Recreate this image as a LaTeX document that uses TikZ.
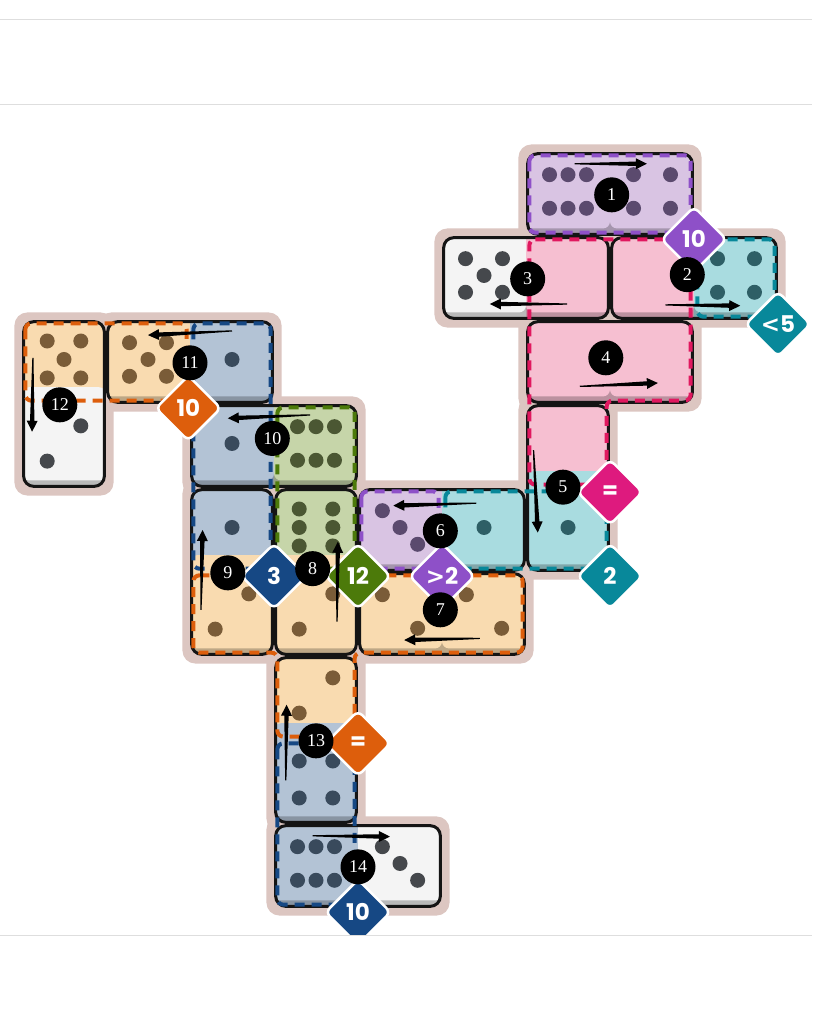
\documentclass[tikz,border=0pt]{standalone}
\usepackage{fontspec}
\setmainfont{Liberation Serif}
\newfontfamily\badgefont{Poppins}
\newfontfamily\signfont{DejaVu Sans}
\usetikzlibrary{shapes.geometric,arrows.meta,calc}

\definecolor{halo}{HTML}{DCC6C1}
\definecolor{pu}{HTML}{D9C4E3}\definecolor{puD}{HTML}{5B4A6E}\definecolor{puR}{HTML}{8E50C8}
\definecolor{pk}{HTML}{F6BFD1}\definecolor{pkD}{HTML}{7A3048}\definecolor{pkR}{HTML}{E0185F}\definecolor{pkB}{HTML}{DE1A7E}
\definecolor{cy}{HTML}{A9DCE0}\definecolor{cyD}{HTML}{2E5F66}\definecolor{cyR}{HTML}{08889A}
\definecolor{wh}{HTML}{F4F4F4}\definecolor{whD}{HTML}{45484C}
\definecolor{or}{HTML}{F9DBB0}\definecolor{orD}{HTML}{7A5C38}\definecolor{orR}{HTML}{DD5E0C}
\definecolor{bl}{HTML}{B3C3D5}\definecolor{blD}{HTML}{394A5C}\definecolor{blR}{HTML}{164884}
\definecolor{gr}{HTML}{C6D5A9}\definecolor{grD}{HTML}{4B5733}\definecolor{grR}{HTML}{4C7A0A}

\tikzset{
    halo box/.style={fill=halo,rounded corners=13pt},
    domino edge/.style={draw=black!92,line width=3pt,rounded corners=10pt},
    region/.style={draw=#1,line width=4pt,dash pattern=on 10pt off 7pt,rounded corners=6pt},
    badge/.style={diamond,fill=#1,draw=white,line width=2.5pt,text=white,minimum width=66pt,minimum height=66pt,inner sep=0pt,rounded corners=6pt,font=\badgefont\bfseries\fontsize{23}{23}\selectfont},
    order/.style={circle,fill=black,text=white,minimum size=35pt,inner sep=0pt,font=\fontsize{18}{18}\selectfont},
    page line/.style={draw=black!13,line width=1pt}
}

\def\pipsnone{}
\def\pipsone{0/0}
\def\pipstwo{-.21/-.2,.21/.2}
\def\pipsthree{-.21/-.2,0/0,.21/.2}
\def\pipsfour{-.22/-.2,.22/-.2,-.22/.2,.22/.2}
\def\pipsfive{-.22/-.2,.22/-.2,0/0,-.22/.2,.22/.2}
\def\pipssix{-.22/-.2,0/-.2,.22/-.2,-.22/.2,0/.2,.22/.2}

\newcommand{\dominotile}[3]{%
    \fill[#3!76!black] (#1,#2) rectangle (#1+1,#2+1);
    \fill[#3,rounded corners=7pt] (#1,#2-.2) rectangle (#1+1,#2+.91);
}
\newcommand{\dominopips}[5]{%
    \ifx#5\pipsnone\else
    \begin{scope}[shift={(#1+.5,#2+.47)},rotate=#3]
        \foreach \a/\b in #5 {\fill[#4D] (\a,\b) circle (7.5pt);}
    \end{scope}
    \fi
}
\newcommand{\domino}[9]{%
    \begin{scope}
        \clip[rounded corners=10pt] (#1+.02,#2+.02) rectangle (#3+.98,#4+.98);
        \dominotile{#1}{#2}{#6}
        \dominotile{#3}{#4}{#8}
    \end{scope}
    \dominopips{#1}{#2}{#5}{#6}{#7}
    \dominopips{#3}{#4}{#5}{#8}{#9}
    \draw[domino edge] (#1+.02,#2+.02) rectangle (#3+.98,#4+.98);
}
\newcommand{\orderarrow}[2]{%
    \coordinate (tail) at #1;
    \coordinate (head) at #2;
    \coordinate (base) at ($(head)!11pt!(tail)$);
    \fill ($(tail)!.6pt!90:(head)$) -- ($(base)!2.2pt!90:(head)$) -- ($(base)!5.5pt!90:(head)$) -- (head)
        -- ($(base)!5.5pt!-90:(head)$) -- ($(base)!2.2pt!-90:(head)$) -- ($(tail)!.6pt!-90:(head)$) -- cycle;
}

\begin{document}
\begin{tikzpicture}[x=84pt,y=-84pt]
        \useasboundingbox (-0.2619,-1.8095) rectangle (9.4048,10.3452);
        \fill[white] (-0.2619,-1.8095) rectangle (9.4048,10.3452);

        \foreach \a/\b/\c/\d in {6/0/7/0,7/1/8/1,5/1/6/1,6/2/7/2,6/3/6/4,4/4/5/4,4/5/5/5,
                3/4/3/5,2/4/2/5,2/3/3/3,1/2/2/2,0/2/0/3,3/6/3/7,3/8/4/8}
            \fill[halo box] (\a-.09,\b-.09) rectangle (\c+1.09,\d+1.09);

        \domino{6}{0}{7}{0}{0}{pu}{\pipssix}{pu}{\pipsfour}
        \domino{7}{1}{8}{1}{0}{pk}{\pipsnone}{cy}{\pipsfour}
        \domino{5}{1}{6}{1}{0}{wh}{\pipsfive}{pk}{\pipsnone}
        \domino{6}{2}{7}{2}{0}{pk}{\pipsnone}{pk}{\pipsnone}
        \domino{6}{3}{6}{4}{90}{pk}{\pipsnone}{cy}{\pipsone}
        \domino{4}{4}{5}{4}{0}{pu}{\pipsthree}{cy}{\pipsone}
        \domino{4}{5}{5}{5}{0}{or}{\pipstwo}{or}{\pipstwo}
        \domino{3}{4}{3}{5}{90}{gr}{\pipssix}{or}{\pipstwo}
        \domino{2}{4}{2}{5}{90}{bl}{\pipsone}{or}{\pipstwo}
        \domino{2}{3}{3}{3}{0}{bl}{\pipsone}{gr}{\pipssix}
        \domino{1}{2}{2}{2}{0}{or}{\pipsfive}{bl}{\pipsone}
        \domino{0}{2}{0}{3}{90}{or}{\pipsfive}{wh}{\pipstwo}
        \domino{3}{6}{3}{7}{90}{or}{\pipstwo}{bl}{\pipsfour}
        \domino{3}{8}{4}{8}{0}{bl}{\pipssix}{wh}{\pipsthree}

        \draw[region=puR] (6.04,0.04) rectangle (7.96,0.96);
        \draw[region=pkR] (6.04,1.04) -- (7.96,1.04) -- (7.96,2.96) -- (6.96,2.96) -- (6.96,3.96) -- (6.04,3.96) -- cycle;
        \draw[region=cyR] (8.04,1.04) rectangle (8.96,1.96);
        \draw[region=cyR] (5.04,4.04) rectangle (6.96,4.96);
        \draw[region=puR] (4.04,4.04) rectangle (4.96,4.96);
        \draw[region=orR] (2.04,5.04) -- (5.96,5.04) -- (5.96,5.96) -- (3.96,5.96) -- (3.96,6.96) -- (3.04,6.96) -- (3.04,5.96) -- (2.04,5.96) -- cycle;
        \draw[region=blR] (2.04,2.04) rectangle (2.96,4.96);
        \draw[region=grR] (3.04,3.04) rectangle (3.96,4.96);
        \draw[region=orR] (0.04,2.04) rectangle (1.96,2.96);
        \draw[region=blR] (3.04,7.04) rectangle (3.96,8.96);

        \node[badge=puR] (sum ten top) at (8,1.04) {10};
        \node[badge=pkB] (equal pink) at (7,4.05) {=};
        \node[badge=cyR] (less five) at (9,2.05) {{\signfont\bfseries<}5};
        \node[badge=cyR] (sum two) at (7,5.05) {2};
        \node[badge=puR] (more two) at (5,5.05) {{\signfont\bfseries>}2};
        \node[badge=orR] (equal orange) at (4,7.04) {=};
        \node[badge=blR] (sum three) at (3,5.05) {3};
        \node[badge=grR] (sum twelve) at (4,5.05) {12};
        \node[badge=orR] (sum ten left) at (1.98,3.05) {10};
        \node[badge=blR] (sum ten bottom) at (4,9.05) {10};

        \orderarrow{(6.58,0.14)}{(7.44,0.14)}
        \orderarrow{(7.66,1.82)}{(8.55,1.83)}
        \orderarrow{(6.49,1.81)}{(5.57,1.81)}
        \orderarrow{(6.64,2.79)}{(7.57,2.75)}
        \orderarrow{(6.09,3.55)}{(6.14,4.53)}
        \orderarrow{(5.41,4.18)}{(4.42,4.21)}
        \orderarrow{(5.45,5.79)}{(4.55,5.81)}
        \orderarrow{(3.75,5.59)}{(3.76,4.64)}
        \orderarrow{(2.13,5.45)}{(2.15,4.5)}
        \orderarrow{(3.43,3.13)}{(2.45,3.17)}
        \orderarrow{(2.5,2.13)}{(1.5,2.18)}
        \orderarrow{(0.13,2.45)}{(0.12,3.33)}
        \orderarrow{(3.14,7.48)}{(3.15,6.58)}
        \orderarrow{(3.46,8.14)}{(4.38,8.15)}

        \foreach \n/\x/\y in {1/7.02/0.51,2/7.92/1.46,3/6.02/1.51,4/6.95/2.45,5/6.44/3.99,
                6/4.98/4.51,7/4.98/5.45,8/3.46/4.96,9/2.45/5.01,10/2.98/3.41,11/2.0/2.51,
                12/0.45/3.01,13/3.5/7.01,14/4.0/8.51}
            \node[order] (n\n) at (\x,\y) {\n};

        \fill[white] (-0.2619,9.333) rectangle (9.4048,10.3452);
        \draw[page line] (-0.2619,-1.583) -- (9.4048,-1.583);
        \draw[page line] (-0.2619,-0.571) -- (9.4048,-0.571);
        \draw[page line] (-0.2619,9.333) -- (9.4048,9.333);
\end{tikzpicture}
\end{document}
